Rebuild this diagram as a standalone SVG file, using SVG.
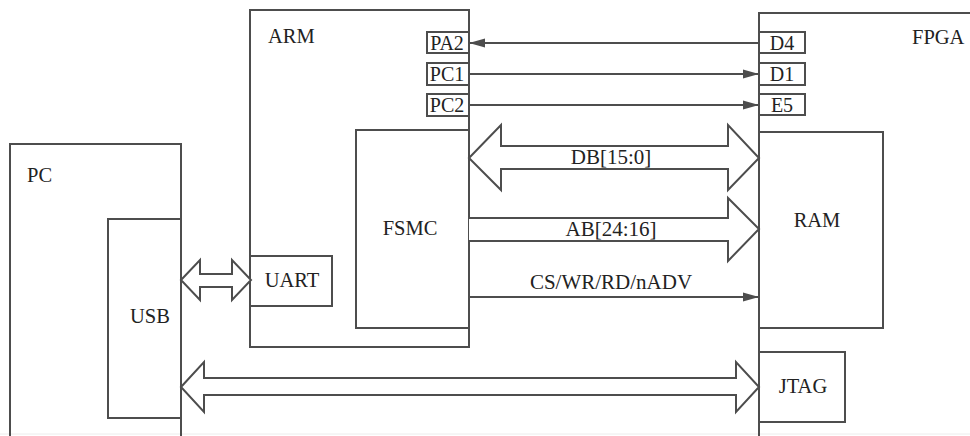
<svg xmlns="http://www.w3.org/2000/svg" width="970" height="436" viewBox="0 0 970 436">
<defs>
<style>
.box{fill:none;stroke:#4d4d4d;stroke-width:2}
.wbox{fill:#fff;stroke:#4d4d4d;stroke-width:2}
.ln{fill:none;stroke:#4d4d4d;stroke-width:2}
.big{fill:#fff;stroke:#4d4d4d;stroke-width:2;stroke-linejoin:miter}
text{font-size:20.5px;fill:#222}
.c{text-anchor:middle}
.bus{font-size:21px}
.pin{font-size:20px}
</style>
<marker id="ah" markerWidth="16" markerHeight="10" refX="16" refY="5" orient="auto" markerUnits="userSpaceOnUse">
<path d="M0,0.5 L16,5 L0,9.5 Z" fill="#4d4d4d"/>
</marker>
</defs>
<rect width="970" height="436" fill="#fff"/>
<line x1="0" y1="434" x2="970" y2="434" stroke="#ececec" stroke-width="1"/>
<g font-family="'Liberation Serif', 'DejaVu Serif', serif">
<g id="pc">
<path class="box" d="M10,440 V144 H181 V440"/>
<text x="27" y="182">PC</text>
</g>
<g id="usb">
<rect class="box" x="108" y="219" width="73" height="199"/>
<text class="c" x="150" y="323">USB</text>
</g>

<g id="arm">
<rect class="box" x="250" y="10" width="219" height="337"/>
<text x="268" y="43">ARM</text>
</g>
<g id="pa2">
<rect class="wbox" x="427" y="32" width="42" height="21"/>
<text class="c pin" x="447" y="50">PA2</text>
</g>
<g id="pc1">
<rect class="wbox" x="427" y="63" width="42" height="22"/>
<text class="c pin" x="447" y="81">PC1</text>
</g>
<g id="pc2">
<rect class="wbox" x="427" y="94" width="42" height="22"/>
<text class="c pin" x="447" y="112">PC2</text>
</g>
<g id="fsmc">
<rect class="box" x="356" y="130" width="113" height="198"/>
<text class="c" x="410" y="235">FSMC</text>
</g>
<g id="uart">
<rect class="wbox" x="250" y="256" width="82" height="50"/>
<text class="c" x="292" y="287">UART</text>
</g>

<g id="fpga">
<path class="box" d="M759,440 V13 H980"/>
<text x="912" y="44">FPGA</text>
</g>
<g id="d4">
<rect class="wbox" x="759" y="32" width="46" height="21"/>
<text class="c pin" x="782" y="50">D4</text>
</g>
<g id="d1">
<rect class="wbox" x="759" y="63" width="46" height="22"/>
<text class="c pin" x="782" y="81">D1</text>
</g>
<g id="e5">
<rect class="wbox" x="759" y="94" width="46" height="21"/>
<text class="c pin" x="782" y="112">E5</text>
</g>
<g id="ram">
<rect class="box" x="759" y="132" width="124" height="196"/>
<text class="c" x="817" y="227">RAM</text>
</g>
<g id="jtag">
<rect class="box" x="759" y="352" width="86" height="70"/>
<text class="c" x="803" y="393">JTAG</text>
</g>

<g id="connectors">
<line class="ln" x1="759" y1="43" x2="469" y2="43" marker-end="url(#ah)"/>
<line class="ln" x1="469" y1="74" x2="759" y2="74" marker-end="url(#ah)"/>
<line class="ln" x1="469" y1="105" x2="759" y2="105" marker-end="url(#ah)"/>
<path class="big" d="M469,158 L501,125 V146 H728 V125 L759,158 L728,190 V169 H501 V190 Z"/>
<text class="c bus" x="611" y="164">DB[15:0]</text>
<path class="big" d="M469,218 H728 V198 L759,229 L728,261 V241 H469"/>
<text class="c bus" x="611" y="236">AB[24:16]</text>
<line class="ln" x1="469" y1="297" x2="759" y2="297" marker-end="url(#ah)"/>
<text class="c bus" x="611" y="289">CS/WR/RD/nADV</text>
<path class="big" d="M181,280 L200,260 V274 H232 V260 L251,280 L232,300 V287 H200 V300 Z"/>
<path class="big" d="M181,387 L204,362 V378 H736 V362 L759,387 L736,412 V395 H204 V412 Z"/>
</g>
</g>
</svg>
